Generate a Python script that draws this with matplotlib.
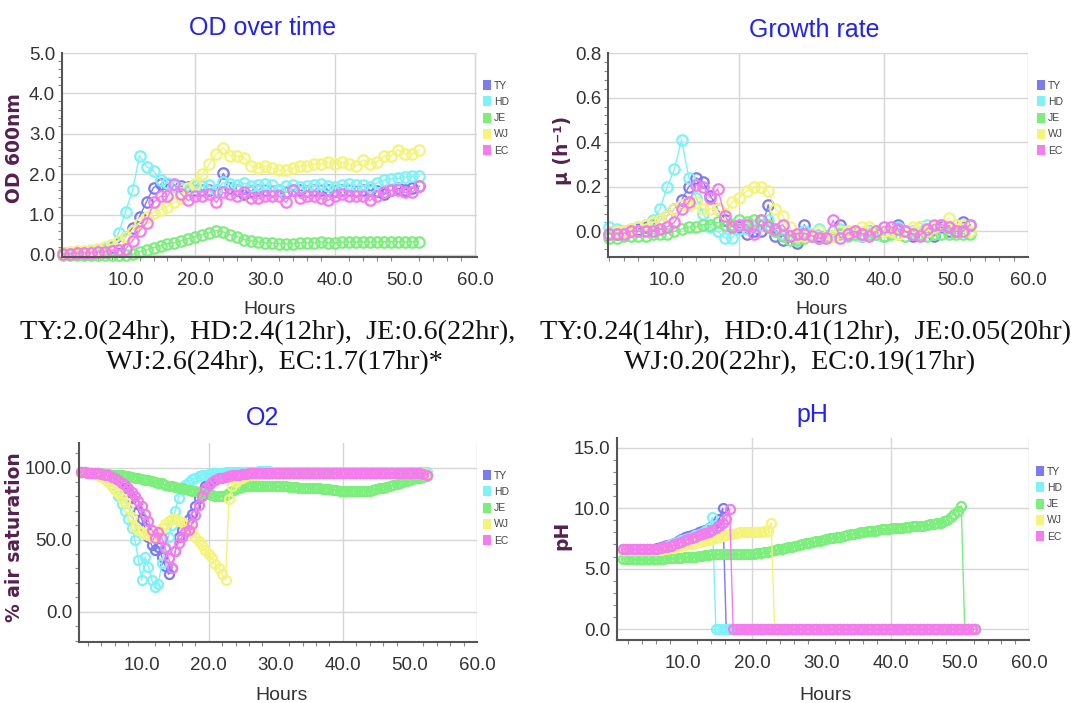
import matplotlib
matplotlib.use("Agg")
import matplotlib.pyplot as plt
from matplotlib.patches import Patch
from matplotlib.ticker import MultipleLocator, AutoMinorLocator, FormatStrFormatter
import numpy as np

NARROW = ['Liberation Sans Narrow', 'Liberation Sans', 'DejaVu Sans']
plt.rcParams['font.family'] = NARROW

# strains and colours
names = ['TY', 'HD', 'JE', 'WJ', 'EC']
colors = ['#7b7bf2', '#7df2f7', '#7cee7c', '#f4f47a', '#f47cee']

# ---- OD 600nm, hourly samples (t = 1..52) ----
od_hours = np.arange(1.0, 52.5, 1.0)
od_ty = [0.05, 0.05, 0.08, 0.08, 0.1, 0.12, 0.15, 0.2,
         0.3, 0.45, 0.68, 0.95, 1.32, 1.67, 1.75, 1.75, 1.72, 1.7,
         1.68, 1.62, 1.6, 1.62, 1.6, 2.02, 1.65, 1.6, 1.5, 1.58,
         1.6, 1.62, 1.58, 1.6, 1.55, 1.62, 1.6, 1.58, 1.6, 1.62,
         1.6, 1.58, 1.62, 1.6, 1.58, 1.6, 1.6, 1.58, 1.5, 1.6,
         1.65, 1.62, 1.65, 1.7]
od_hd = [0.05, 0.05, 0.05, 0.08, 0.1, 0.12, 0.15, 0.25,
         0.54, 1.07, 1.6, 2.46, 2.19, 2.08, 1.86, 1.78, 1.7, 1.65,
         1.6, 1.7, 1.7, 1.72, 1.6, 1.8, 1.75, 1.72, 1.78, 1.7,
         1.72, 1.75, 1.72, 1.6, 1.7, 1.72, 1.68, 1.7, 1.72, 1.75,
         1.7, 1.68, 1.72, 1.75, 1.72, 1.72, 1.68, 1.78, 1.85, 1.88,
         1.9, 1.92, 1.95, 1.95]
od_je = [0.0, 0.0, 0.0, 0.0, 0.0, 0.0, 0.0, 0.0,
         0.0, 0.0, 0.02, 0.08, 0.12, 0.18, 0.22, 0.28, 0.3, 0.35,
         0.4, 0.45, 0.5, 0.55, 0.6, 0.57, 0.5, 0.45, 0.38, 0.35,
         0.32, 0.3, 0.3, 0.28, 0.28, 0.28, 0.3, 0.3, 0.3, 0.32,
         0.3, 0.3, 0.32, 0.32, 0.32, 0.32, 0.32, 0.32, 0.33, 0.33,
         0.33, 0.32, 0.33, 0.32]
od_wj = [0.05, 0.08, 0.1, 0.1, 0.12, 0.15, 0.2, 0.25,
         0.35, 0.45, 0.6, 0.8, 0.95, 1.05, 1.12, 1.2, 1.3, 1.4,
         1.65, 1.75, 2.0, 2.25, 2.5, 2.65, 2.45, 2.45, 2.4, 2.2,
         2.15, 2.2, 2.15, 2.1, 2.1, 2.15, 2.2, 2.2, 2.25, 2.25,
         2.3, 2.25, 2.3, 2.25, 2.2, 2.35, 2.25, 2.3, 2.45, 2.45,
         2.6, 2.5, 2.5, 2.6]
od_ec = [0.03, 0.03, 0.05, 0.05, 0.05, 0.07, 0.07, 0.1,
         0.12, 0.15, 0.35, 0.6, 0.8, 1.3, 1.45, 1.45, 1.75, 1.5,
         1.35, 1.45, 1.45, 1.5, 1.3, 1.55, 1.5, 1.45, 1.55, 1.4,
         1.4, 1.45, 1.45, 1.45, 1.3, 1.6, 1.4, 1.45, 1.45, 1.4,
         1.35, 1.45, 1.5, 1.45, 1.45, 1.45, 1.35, 1.45, 1.55, 1.6,
         1.6, 1.55, 1.55, 1.7]

# ---- specific growth rate, hourly (t = 2..52) ----
gr_hours = np.arange(2.0, 52.5, 1.0)
gr_ty = [-0.01, -0.01, 0.0, 0.0, 0.01, 0.02, 0.03,
         0.05, 0.07, 0.1, 0.14, 0.2, 0.24, 0.22, 0.16, 0.1, 0.05,
         0.03, 0.02, -0.01, 0.0, 0.0, 0.12, -0.02, -0.04, -0.02, -0.05,
         0.03, -0.02, -0.02, -0.02, -0.02, 0.03, -0.01, 0.0, -0.02, 0.0,
         0.0, -0.02, 0.0, 0.03, 0.0, -0.02, 0.02, 0.0, -0.02, 0.02,
         0.0, 0.0, 0.04, 0.03]
gr_hd = [0.02, 0.01, 0.0, 0.01, 0.02, 0.03, 0.05,
         0.1, 0.2, 0.28, 0.41, 0.24, 0.15, 0.08, 0.02, 0.0, -0.03,
         -0.03, 0.01, 0.01, 0.02, 0.03, 0.05, 0.0, -0.01, -0.02, -0.03,
         0.0, -0.01, 0.01, -0.02, 0.0, 0.01, 0.0, -0.01, -0.02, 0.0,
         -0.01, -0.02, 0.0, 0.02, 0.0, 0.0, 0.02, 0.03, 0.02, 0.03,
         0.02, 0.03, 0.03, 0.03]
gr_je = [-0.03, -0.03, -0.02, -0.02, -0.02, -0.02, -0.01,
         -0.01, -0.01, 0.0, 0.01, 0.02, 0.02, 0.03, 0.03, 0.04, 0.03,
         0.03, 0.05, 0.04, 0.05, 0.05, 0.03, 0.0, -0.02, -0.04, -0.04,
         -0.03, -0.02, -0.03, -0.02, -0.02, -0.01, -0.02, -0.01, -0.01, -0.01,
         -0.01, -0.02, -0.01, -0.01, -0.02, -0.01, -0.01, -0.02, -0.01, -0.01,
         -0.01, -0.01, -0.01, -0.01]
gr_wj = [-0.01, 0.0, 0.0, 0.01, 0.02, 0.03, 0.04,
         0.05, 0.07, 0.1, 0.12, 0.12, 0.13, 0.1, 0.1, 0.1, 0.08,
         0.13, 0.15, 0.18, 0.2, 0.2, 0.18, 0.1, 0.07, 0.02, -0.02,
         -0.02, -0.02, 0.0, -0.03, -0.02, 0.0, 0.0, 0.0, 0.02, 0.02,
         0.0, 0.0, 0.0, -0.01, 0.0, 0.02, 0.02, 0.0, 0.02, 0.03,
         0.06, 0.03, 0.03, 0.0]
gr_ec = [-0.01, -0.01, -0.01, 0.0, 0.0, 0.0, 0.0,
         0.01, 0.02, 0.04, 0.1, 0.13, 0.21, 0.2, 0.15, 0.19, 0.07,
         0.02, 0.03, 0.03, -0.01, 0.05, 0.02, 0.01, 0.03, -0.02, -0.01,
         -0.01, -0.02, -0.03, -0.03, 0.05, -0.03, -0.01, 0.0, -0.01, -0.02,
         0.0, 0.02, 0.02, 0.01, 0.0, -0.01, -0.02, 0.01, 0.03, 0.03,
         0.02, 0.0, 0.0, 0.03]

# ---- dissolved O2, % air saturation, every 0.5 h (t = 1.0..52.5) ----
o2_hours = np.arange(1.0, 52.75, 0.5)
o2_ty = [97, 97, 96.5, 96.5, 96, 96, 95.5, 95, 94.5, 93.5,
         92.5, 91, 89, 86, 83, 79, 75, 70, 64, 58,
         52, 46, 43, 45, 38, 32, 26, 30, 42, 52,
         57, 60, 64, 68, 73, 79, 84, 87, 89.5, 91,
         92, 93, 93.5, 94, 94.5, 95, 95, 95.5, 95.5, 95.5,
         96, 96, 96, 96, 96, 96, 96, 96, 96, 96,
         96, 96, 96, 96, 96, 96, 96, 96, 96, 96,
         96, 96, 96, 96, 96, 96, 96, 96, 96, 96,
         96, 96, 96, 96, 96, 96, 96, 96, 96, 96,
         96, 96, 96, 96, 96, 96, 96, 96, 96, 96,
         96, 96, 95.5, 95.5]
o2_hd = [97, 97, 96.5, 96.5, 96, 95.5, 95, 93, 91, 88,
         85, 80, 75, 70, 64, 58, 50, 36, 22, 38,
         31, 22, 17, 19, 34, 45, 52, 60, 70, 79,
         85, 88, 90, 92, 93, 94, 94.5, 95, 95.5, 96,
         96, 96.5, 96.5, 97, 97, 97, 97, 97, 97, 97,
         97, 97, 97, 97.5, 97.5, 97.5, 97.5, 97, 97, 97,
         97, 97, 97, 97, 97, 97, 97, 97, 97, 97,
         97, 97, 97, 97, 97, 97, 97, 97, 97, 97,
         97, 97, 97, 97, 97, 97, 97, 97, 97, 97,
         97, 97, 97, 97, 97, 97, 97, 97, 97, 97,
         97, 97, 97, 97]
o2_je = [97, 97, 96.5, 96.5, 96, 96, 96, 95.5, 95.5, 95,
         95, 94.5, 94.5, 94, 94, 93.5, 93, 92.5, 92, 91.5,
         91, 90.5, 90, 89.5, 89, 88, 87.5, 87, 86.5, 86,
         85.5, 85, 84.5, 84, 83.5, 83, 82.5, 82, 81.5, 81,
         80.5, 80.5, 80.5, 81, 82, 83.5, 85, 86, 86.5, 87,
         87, 87, 87, 87.5, 87.5, 87.5, 87.5, 87.5, 87.5, 87,
         87, 87, 86.5, 86.5, 86.5, 86, 86, 86, 86, 85.5,
         85.5, 85.5, 85, 85, 85, 84.5, 84.5, 84, 84, 84,
         84, 83.5, 83.5, 83.5, 83.5, 84, 84, 84.5, 85, 85.5,
         86, 86.5, 87, 88, 88.5, 89, 90, 90.5, 91, 92,
         92.5, 93, 93.5, 94]
o2_wj = [97, 97, 96.5, 96, 95.5, 94.5, 93.5, 92, 90, 87.5,
         85, 82, 79, 76, 72, 66, 59, 57, 55, 54,
         53, 52, 52, 54, 58, 61, 63, 64, 64, 63,
         62, 60, 58, 55, 52, 49, 46, 43, 40, 37,
         33, 30, 26, 22, 78, 87, 90, 92, 93, 94,
         94.5, 95, 95, 95.5, 95.5, 95.5, 96, 96, 96, 96,
         96, 96, 96, 96, 96, 96, 96, 96, 96, 96,
         96, 96, 96, 96, 96, 96, 96, 96, 96, 96,
         96, 96, 96, 96, 96, 96, 96, 96, 96, 96,
         96, 96, 96, 96, 96, 96, 96, 96, 96, 96,
         96, 96, 96, 95.5]
o2_ec = [97, 97, 96.5, 96.5, 96, 96, 95.5, 95, 94.5, 93.5,
         92.5, 91, 89.5, 88, 85.5, 83, 80, 77, 73, 68,
         63, 57, 51, 55, 51, 44, 37, 30, 42, 48,
         52, 55, 57, 61, 67, 74, 80, 85, 88, 90,
         91.5, 92.5, 93, 93.5, 94, 94.5, 95, 95, 95.5, 95.5,
         96, 96, 96, 96, 96, 96, 96, 96, 96, 96,
         96, 96, 96, 96, 96, 96, 96, 96, 96, 96,
         96, 96, 96, 96, 96, 96, 96, 96, 96, 96,
         96, 96, 96, 96, 96, 96, 96, 96, 96, 96,
         96, 96, 96, 96, 96, 96, 96, 96, 96, 96,
         96, 96, 95.5, 95]

# ---- pH, every 0.5 h (t = 1.2..52.2) ----
ph_hours = np.arange(1.2, 52.45, 0.5)
ph_ty = [6.65, 6.65, 6.65, 6.65, 6.65, 6.65, 6.65, 6.65, 6.65, 6.65,
         6.7, 6.75, 6.85, 6.95, 7.05, 7.15, 7.3, 7.45, 7.6, 7.7,
         7.8, 7.9, 8.0, 8.1, 8.2, 8.35, 8.5, 8.75, 9.1, 10.0,
         0, 0, 0, 0, 0, 0, 0, 0, 0, 0,
         0, 0, 0, 0, 0, 0, 0, 0, 0, 0,
         0, 0, 0, 0, 0, 0, 0, 0, 0, 0,
         0, 0, 0, 0, 0, 0, 0, 0, 0, 0,
         0, 0, 0, 0, 0, 0, 0, 0, 0, 0,
         0, 0, 0, 0, 0, 0, 0, 0, 0, 0,
         0, 0, 0, 0, 0, 0, 0, 0, 0, 0,
         0, 0, 0]
ph_hd = [6.6, 6.6, 6.6, 6.6, 6.6, 6.6, 6.6, 6.6, 6.6, 6.6,
         6.65, 6.7, 6.8, 6.9, 7.0, 7.1, 7.2, 7.35, 7.45, 7.55,
         7.65, 7.75, 7.85, 7.95, 8.1, 8.4, 9.25, 0, 0, 0,
         0, 0, 0, 0, 0, 0, 0, 0, 0, 0,
         0, 0, 0, 0, 0, 0, 0, 0, 0, 0,
         0, 0, 0, 0, 0, 0, 0, 0, 0, 0,
         0, 0, 0, 0, 0, 0, 0, 0, 0, 0,
         0, 0, 0, 0, 0, 0, 0, 0, 0, 0,
         0, 0, 0, 0, 0, 0, 0, 0, 0, 0,
         0, 0, 0, 0, 0, 0, 0, 0, 0, 0,
         0, 0, 0]
ph_je = [5.8, 5.8, 5.8, 5.8, 5.8, 5.8, 5.8, 5.8, 5.8, 5.8,
         5.8, 5.8, 5.8, 5.85, 5.85, 5.85, 5.9, 5.9, 5.95, 5.95,
         6.0, 6.0, 6.05, 6.05, 6.1, 6.15, 6.2, 6.2, 6.2, 6.2,
         6.2, 6.2, 6.2, 6.2, 6.2, 6.2, 6.2, 6.25, 6.25, 6.3,
         6.3, 6.35, 6.4, 6.45, 6.5, 6.6, 6.65, 6.7, 6.75, 6.8,
         6.9, 6.95, 7.0, 7.1, 7.15, 7.2, 7.25, 7.3, 7.4, 7.45,
         7.5, 7.55, 7.6, 7.65, 7.7, 7.8, 7.85, 7.9, 7.95, 8.0,
         8.05, 8.1, 8.1, 8.15, 8.2, 8.25, 8.3, 8.3, 8.35, 8.4,
         8.4, 8.4, 8.45, 8.45, 8.5, 8.5, 8.55, 8.55, 8.6, 8.65,
         8.7, 8.75, 8.8, 8.9, 9.05, 9.3, 9.55, 9.8, 10.2, 0,
         0, 0, 0]
ph_wj = [6.5, 6.5, 6.5, 6.5, 6.5, 6.5, 6.5, 6.5, 6.5, 6.5,
         6.55, 6.55, 6.6, 6.6, 6.7, 6.7, 6.8, 6.85, 6.95, 7.0,
         7.05, 7.1, 7.2, 7.25, 7.3, 7.4, 7.45, 7.55, 7.65, 7.7,
         7.8, 7.85, 7.9, 7.95, 8.0, 8.0, 8.0, 8.0, 8.0, 8.05,
         8.05, 8.1, 8.15, 8.8, 0, 0, 0, 0, 0, 0,
         0, 0, 0, 0, 0, 0, 0, 0, 0, 0,
         0, 0, 0, 0, 0, 0, 0, 0, 0, 0,
         0, 0, 0, 0, 0, 0, 0, 0, 0, 0,
         0, 0, 0, 0, 0, 0, 0, 0, 0, 0,
         0, 0, 0, 0, 0, 0, 0, 0, 0, 0,
         0, 0, 0]
ph_ec = [6.6, 6.6, 6.6, 6.6, 6.6, 6.6, 6.6, 6.6, 6.6, 6.6,
         6.65, 6.7, 6.75, 6.8, 6.9, 7.0, 7.1, 7.2, 7.35, 7.45,
         7.55, 7.65, 7.75, 7.85, 7.95, 8.05, 8.2, 8.35, 8.55, 8.8,
         9.1, 9.9, 0, 0, 0, 0, 0, 0, 0, 0,
         0, 0, 0, 0, 0, 0, 0, 0, 0, 0,
         0, 0, 0, 0, 0, 0, 0, 0, 0, 0,
         0, 0, 0, 0, 0, 0, 0, 0, 0, 0,
         0, 0, 0, 0, 0, 0, 0, 0, 0, 0,
         0, 0, 0, 0, 0, 0, 0, 0, 0, 0,
         0, 0, 0, 0, 0, 0, 0, 0, 0, 0,
         0, 0, 0]

cap_od = ['TY:2.0(24hr),  HD:2.4(12hr),  JE:0.6(22hr),', 'WJ:2.6(24hr),  EC:1.7(17hr)*']
cap_gr = ['TY:0.24(14hr),  HD:0.41(12hr),  JE:0.05(20hr)', 'WJ:0.20(22hr),  EC:0.19(17hr)']

W, H = 1076, 703
fig = plt.figure(figsize=(W / 100, H / 100), dpi=100)
fig.patch.set_facecolor('white')


def px(l, t, r, b):
    return [l / W, 1 - b / H, (r - l) / W, (b - t) / H]


def panel(rect, hours, series, xlim, ylim, ystep, ms):
    ax = fig.add_axes(rect)
    ax.set_xlim(*xlim)
    ax.set_ylim(*ylim)
    for x in (20, 40, 60):
        ax.axvline(x, color='#d6d6d6', lw=1.0, zorder=0)
    ax.yaxis.set_major_locator(MultipleLocator(ystep))
    ax.yaxis.grid(True, color='#d6d6d6', lw=1.0, zorder=0)
    ax.set_axisbelow(True)
    ax.xaxis.set_major_locator(MultipleLocator(10))
    ax.xaxis.set_minor_locator(MultipleLocator(2))
    ax.yaxis.set_minor_locator(AutoMinorLocator(5))
    ax.xaxis.set_major_formatter(FormatStrFormatter('%.1f'))
    ax.yaxis.set_major_formatter(FormatStrFormatter('%.1f'))
    ax.tick_params(which='major', length=0, labelsize=13.5, labelcolor='#333333')
    ax.tick_params(axis='x', which='major', pad=11)
    ax.tick_params(axis='y', which='major', pad=5)
    ax.tick_params(which='minor', length=3, width=0.8, color='#888888', direction='out')
    for s in ('top', 'right'):
        ax.spines[s].set_visible(False)
    for s in ('left', 'bottom'):
        ax.spines[s].set_color('#555555')
        ax.spines[s].set_linewidth(1.5)
    for vals, col in zip(series, colors):
        ax.plot(hours[:len(vals)], vals, '-', color=col, lw=1.0, marker='o',
                ms=ms, mfc='none', mec=col, mew=1.6, clip_on=False)
    return ax


panel(px(62, 53, 477, 257), od_hours, [od_ty, od_hd, od_je, od_wj, od_ec],
      (0.9, 60.3), (-0.05, 5.0), 1.0, 7.5)
panel(px(608, 53, 1028, 257), gr_hours, [gr_ty, gr_hd, gr_je, gr_wj, gr_ec],
      (1.8, 60.0), (-0.115, 0.8), 0.2, 7.5)
panel(px(79, 443, 477, 642), o2_hours, [o2_ty, o2_hd, o2_je, o2_wj, o2_ec],
      (0.65, 60.0), (-21, 117), 50, 6.5)
panel(px(617, 438, 1029, 640), ph_hours, [ph_ty, ph_hd, ph_je, ph_wj, ph_ec],
      (0.4, 60.0), (-0.9, 15.8), 5, 6.5)

# legends
handles = [Patch(facecolor=c, edgecolor='none') for c in colors]
for lx, ly in [(483, 80), (1037, 80), (483, 470), (1036, 466)]:
    fig.legend(handles, names, loc='upper left', bbox_to_anchor=(lx / W, 1 - ly / H),
               frameon=False, fontsize=7.5, labelcolor='#444444', handlelength=0.75,
               handleheight=1.1, handletextpad=0.3, labelspacing=0.55,
               borderpad=0, borderaxespad=0)

# titles
title_kw = dict(ha='center', va='center', color='#2222ee', fontsize=18)
fig.text(263 / W, 1 - 28 / H, 'OD over time', **title_kw)
fig.text(814 / W, 1 - 30 / H, 'Growth rate', **title_kw)
fig.text(263 / W, 1 - 418 / H, 'O2', **title_kw)
fig.text(812 / W, 1 - 415 / H, 'pH', **title_kw)

# y labels
ylab_kw = dict(ha='center', va='center', rotation=90, fontsize=13.5,
               fontweight='bold', color='#55204f', family='DejaVu Sans')
fig.text(15 / W, 1 - 148 / H, 'OD 600nm', **ylab_kw)
fig.text(562 / W, 1 - 150 / H, 'μ (h⁻¹)', **ylab_kw)
fig.text(15 / W, 1 - 537 / H, '% air saturation', **ylab_kw)
fig.text(562 / W, 1 - 535 / H, 'pH', **ylab_kw)

# x labels
xlab_kw = dict(ha='center', va='center', fontsize=14, color='#333333')
fig.text(270 / W, 1 - 310 / H, 'Hours', **xlab_kw)
fig.text(822 / W, 1 - 310 / H, 'Hours', **xlab_kw)
fig.text(282 / W, 1 - 696 / H, 'Hours', **xlab_kw)
fig.text(826 / W, 1 - 696 / H, 'Hours', **xlab_kw)

# captions under the top panels
cap_kw = dict(ha='center', va='center', fontsize=20.3, color='#111111', family='Liberation Serif')
fig.text(268 / W, 1 - 333 / H, cap_od[0], **cap_kw)
fig.text(274 / W, 1 - 363 / H, cap_od[1], **cap_kw)
fig.text(805 / W, 1 - 333 / H, cap_gr[0], **cap_kw)
fig.text(800 / W, 1 - 363 / H, cap_gr[1], **cap_kw)

fig.savefig('out.png', dpi=100, facecolor='white')
